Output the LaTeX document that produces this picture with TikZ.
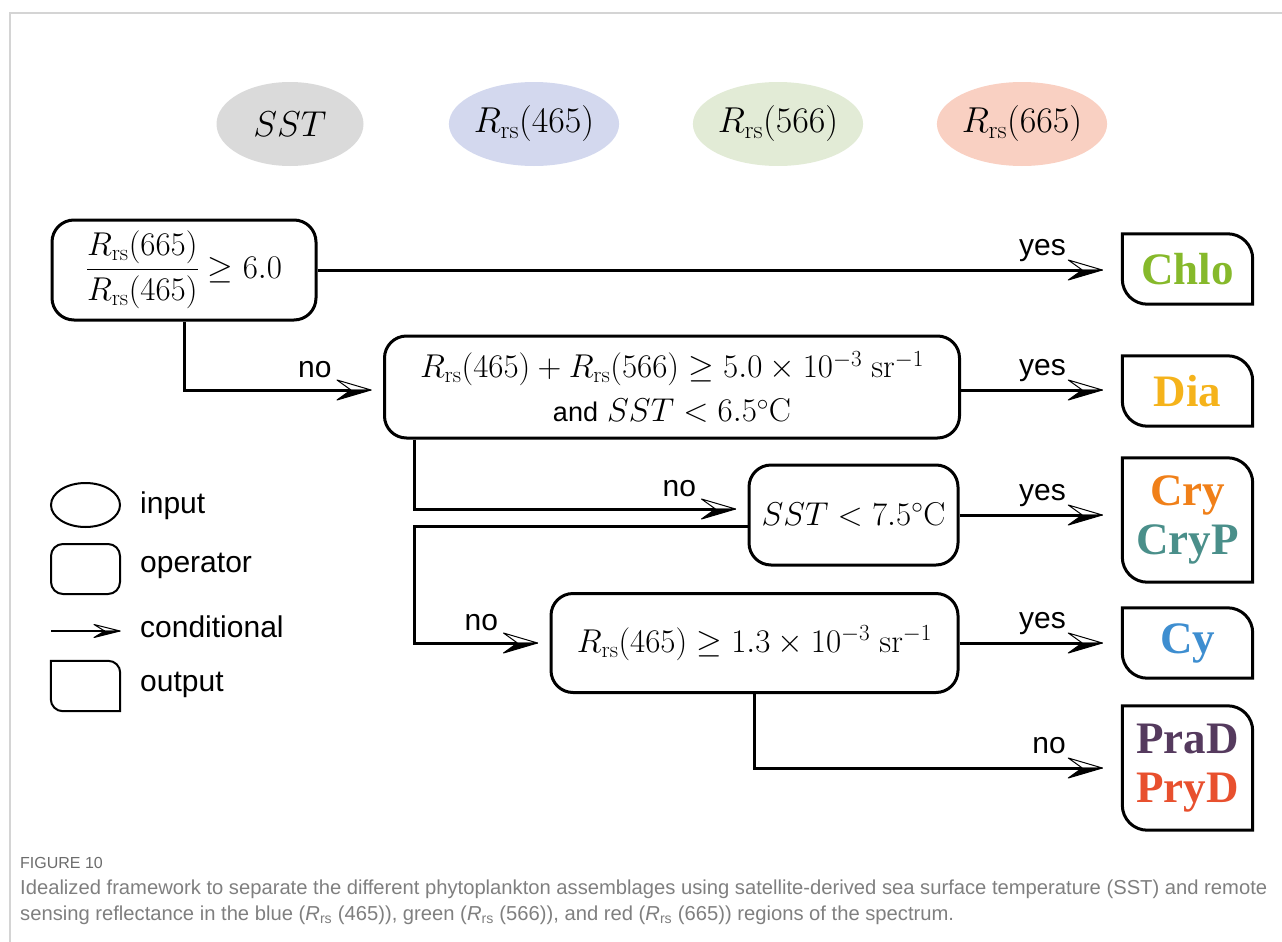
\RequirePackage{fix-cm}
\documentclass[tikz,border=0pt]{standalone}
\usepackage{amsmath}
\usepackage[no-math]{fontspec}
\setmainfont{Liberation Sans}
\newfontfamily\outfont{Liberation Serif}
\usetikzlibrary{shapes.geometric,arrows.meta}

\definecolor{colSST}{HTML}{DADADA}
\definecolor{colBlue}{HTML}{D3D8EE}
\definecolor{colGreen}{HTML}{E2EBD6}
\definecolor{colRed}{HTML}{F9D0C2}
\definecolor{colChlo}{HTML}{86B92B}
\definecolor{colDia}{HTML}{F5B31B}
\definecolor{colCry}{HTML}{F08019}
\definecolor{colCryP}{HTML}{4A8F8A}
\definecolor{colCy}{HTML}{3E8ED0}
\definecolor{colPraD}{HTML}{553A5E}
\definecolor{colPryD}{HTML}{E8502E}
\definecolor{framegray}{HTML}{D4D4D4}
\definecolor{capgray}{HTML}{7F7F7F}

\newcommand{\lblsize}{\fontsize{30}{36}\selectfont}
\newcommand{\eqsize}{\fontsize{33}{44}\selectfont}
\newcommand{\insize}{\fontsize{36}{40}\selectfont}
\newcommand{\andsize}{\fontsize{27}{30}\selectfont}
\newcommand{\outsize}{\fontsize{45}{49}\selectfont\outfont\bfseries}
\newcommand{\capsize}{\fontsize{20.2}{25}\selectfont}
\newcommand{\Rrs}[1]{R_{\mathrm{rs}}(#1)}

% half open barb used for the conditionals
\pgfdeclarearrow{
  name = HalfBarb,
  defaults = {length = 34pt, width = 20pt},
  setup code = {
    \pgfarrowssettipend{0pt}
    \pgfarrowssetlineend{-.59\pgfarrowlength}
    \pgfarrowssetvisualbackend{-\pgfarrowlength}
    \pgfarrowssetbackend{-\pgfarrowlength}
    \pgfarrowshullpoint{0pt}{0pt}
    \pgfarrowshullpoint{-\pgfarrowlength}{.5\pgfarrowwidth}
    \pgfarrowshullpoint{-\pgfarrowlength}{-.5\pgfarrowwidth}
    \pgfarrowssavethe\pgfarrowlength
    \pgfarrowssavethe\pgfarrowwidth
  },
  drawing code = {
    \pgfsetlinewidth{1pt}
    \pgfsetroundjoin
    \pgfpathmoveto{\pgfqpoint{0pt}{0pt}}
    \pgfpathlineto{\pgfqpoint{-\pgfarrowlength}{.5\pgfarrowwidth}}
    \pgfpathlineto{\pgfqpoint{-.59\pgfarrowlength}{0pt}}
    \pgfpathclose
    \pgfusepathqstroke
    \pgfpathmoveto{\pgfqpoint{0pt}{0pt}}
    \pgfpathlineto{\pgfqpoint{-\pgfarrowlength}{-.5\pgfarrowwidth}}
    \pgfpathlineto{\pgfqpoint{-.59\pgfarrowlength}{0pt}}
    \pgfpathclose
    \pgfusepathqfillstroke
  },
  parameters = {\the\pgfarrowlength,\the\pgfarrowwidth},
}

\begin{document}
\begin{tikzpicture}[x=1pt,y=-1pt,
    every node/.style={inner sep=0pt},
    inbox/.style={ellipse,minimum width=147pt,minimum height=84pt,font=\insize},
    opbox/.style={draw,line width=3pt,rounded corners=22pt,minimum height=100pt,
      font=\eqsize,align=center},
    outbox/.style={minimum width=130pt,minimum height=70pt,font=\outsize,align=center},
    conn/.style={line width=3pt,-{HalfBarb}},
    yesarrow/.style={conn,shorten >=20pt},
    noarrow/.style={conn,shorten >=12pt},
    yeslbl/.style={font=\lblsize,anchor=base east,xshift=-55pt,yshift=15pt},
    nolbl/.style={font=\lblsize,anchor=base east,xshift=-50pt,yshift=13pt},
    legtxt/.style={font=\lblsize,anchor=base west}]
  \useasboundingbox (0,0) rectangle (1282,942);
  \draw[framegray,line width=1.5pt] (1282,13) -- (10,13) -- (10,942);

  % inputs
  \node[inbox,fill=colSST] (sst) at (290,124) {$SST$};
  \node[inbox,fill=colBlue] (rblue) at (534,124) {$\Rrs{465}$};
  \node[inbox,fill=colGreen] (rgreen) at (778,124) {$\Rrs{566}$};
  \node[inbox,fill=colRed] (rred) at (1022,124) {$\Rrs{665}$};

  % operators
  \node[opbox,minimum width=264pt] (op1) at (184,270)
    {$\dfrac{\Rrs{665}}{\Rrs{465}}\geq 6.0$};
  \node[opbox,minimum width=575pt,minimum height=102pt] (op2) at (672,387)
    {$\Rrs{465}+\Rrs{566}\geq 5.0\times10^{-3}\ \mathrm{sr}^{-1}$\\
     {\andsize and} $SST<6.5^{\circ}\mathrm{C}$};
  \node[opbox,minimum width=209pt] (op3) at (853.5,515) {$SST<7.5^{\circ}\mathrm{C}$};
  \node[opbox,minimum width=407pt,minimum height=99pt] (op4) at (754.5,643)
    {$\Rrs{465}\geq 1.3\times10^{-3}\ \mathrm{sr}^{-1}$};

  % outputs
  \node[outbox] (chlo) at (1187.5,269) {\color{colChlo}Chlo};
  \node[outbox] (dia) at (1187.5,391) {\color{colDia}Dia};
  \node[outbox,minimum height=124pt] (cry) at (1187.5,520)
    {\color{colCry}Cry\\\color{colCryP}CryP};
  \node[outbox] (cy) at (1187.5,643) {\color{colCy}Cy};
  \node[outbox,minimum height=124pt] (prad) at (1187.5,768)
    {\color{colPraD}PraD\\\color{colPryD}PryD};

  % legend
  \node[ellipse,draw,line width=2pt,minimum width=69pt,minimum height=44pt] (leginput) at (85.5,505) {};
  \node[draw,line width=2pt,rounded corners=12pt,minimum width=69pt,minimum height=50pt] (legop) at (85.5,569) {};
  \coordinate (legA) at (51,631);
  \coordinate (legB) at (120,631);
  \node[minimum width=69pt,minimum height=50pt] (legout) at (85.5,686) {};
  \draw[line width=2pt,-{HalfBarb[length=26pt,width=13pt]}] (legA) -- (legB);
  \node[legtxt] (tinput) at (140,513) {input};
  \node[legtxt] (toperator) at (140,572) {operator};
  \node[legtxt] (tconditional) at (140,637) {conditional};
  \node[legtxt] (toutput) at (140,691) {output};

  % output outlines, round corners top right and bottom left
  \foreach \o/\r/\w in {chlo/25pt/3pt,dia/25pt/3pt,cry/25pt/3pt,cy/25pt/3pt,prad/25pt/3pt,legout/12pt/2pt}
    \draw[line width=\w] (\o.north west) -- ([xshift=-\r]\o.north east)
      arc[start angle=90,end angle=0,radius=\r] -- (\o.south east)
      -- ([xshift=\r]\o.south west) arc[start angle=270,end angle=180,radius=\r] -- cycle;

  % connectors
  \coordinate (k2) at ([xshift=31pt]op2.south west);
  \draw[yesarrow] (op1.east) -- (op1.east -| chlo.west) node[yeslbl] {yes};
  \draw[noarrow] (op1.south) |- ([yshift=-3pt]op2.west) node[nolbl] {no};
  \draw[yesarrow] ([yshift=-3pt]op2.east) -- ([yshift=-3pt]op2.east -| dia.west) node[yeslbl] {yes};
  \draw[noarrow] (k2) |- ([yshift=6pt]op3.west) node[nolbl] {no};
  \draw[yesarrow] (op3.east) -- (op3.east -| cry.west) node[yeslbl] {yes};
  \draw[noarrow] ([yshift=-11pt]op3.west) -| (k2 |- op4.west) -- (op4.west) node[nolbl] {no};
  \draw[yesarrow] (op4.east) -- (op4.east -| cy.west) node[yeslbl] {yes};
  \draw[yesarrow] (op4.south) |- (prad.west) node[yeslbl] {no};

  % caption
  \node[anchor=base west,font=\fontsize{16}{20}\selectfont,text=capgray!85!black] (figlbl) at (20,868) {FIGURE 10};
  \node[anchor=base west,font=\capsize,text=capgray] (cap1) at (20,894)
    {Idealized framework to separate the different phytoplankton assemblages using satellite-derived sea surface temperature (SST) and remote};
  \node[anchor=base west,font=\capsize,text=capgray] (cap2) at (20,920)
    {sensing reflectance in the blue (\textit{R}\textsubscript{rs} (465)), green (\textit{R}\textsubscript{rs} (566)), and red (\textit{R}\textsubscript{rs} (665)) regions of the spectrum.};
\end{tikzpicture}
\end{document}
